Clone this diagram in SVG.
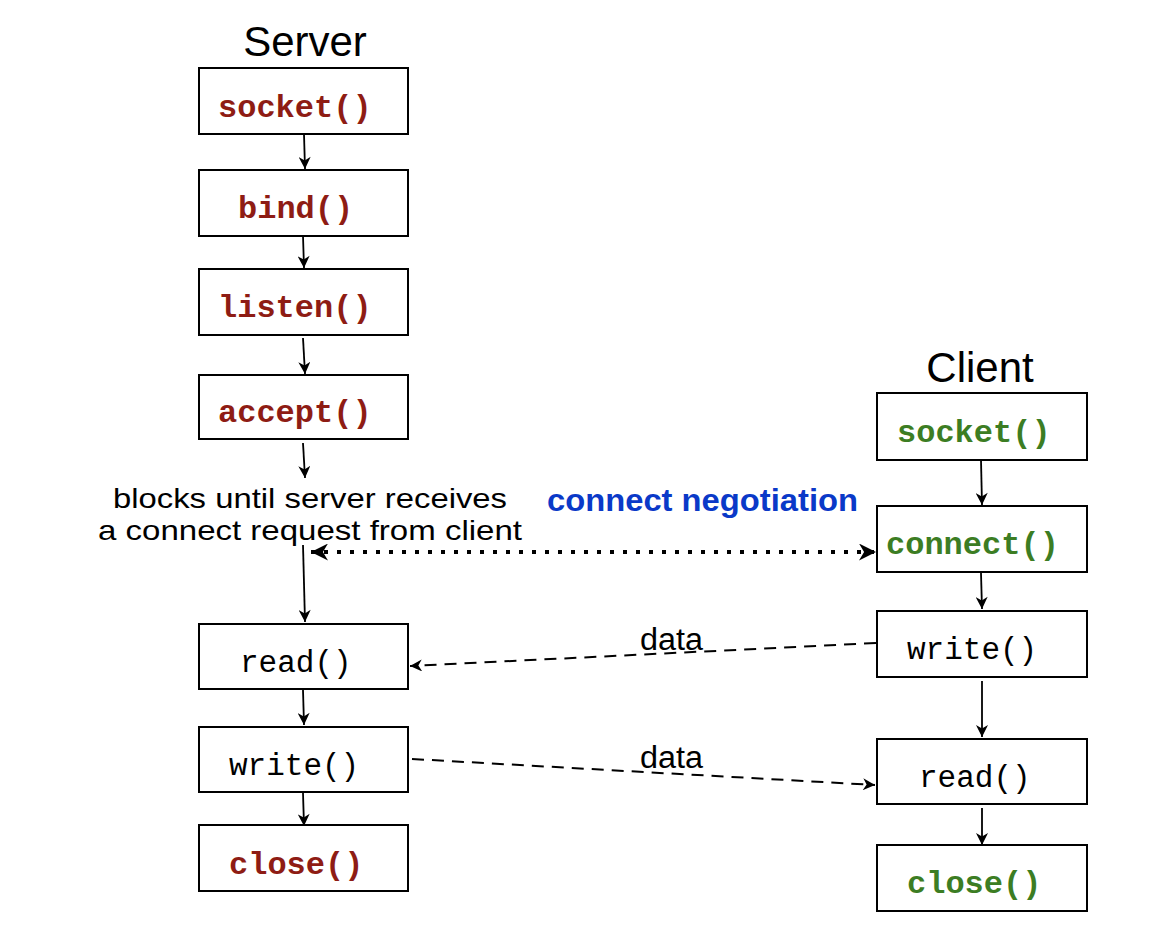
<svg xmlns="http://www.w3.org/2000/svg" width="1152" height="938" viewBox="0 0 1152 938">
<style>
.box{fill:#fff;stroke:#000;stroke-width:2}
.srv{font-family:"Liberation Mono",monospace;font-weight:bold;font-size:32px;fill:#8e1c14}
.cli{font-family:"Liberation Mono",monospace;font-weight:bold;font-size:32px;fill:#3c7d23}
.plain{font-family:"Liberation Mono",monospace;font-size:31px;fill:#000}
.title{font-family:"Liberation Sans",Arial,sans-serif;font-size:42px;fill:#000}
.note{font-family:"Liberation Sans",Arial,sans-serif;font-size:28px;fill:#000}
.neg{font-family:"Liberation Sans",Arial,sans-serif;font-weight:bold;font-size:31px;fill:#0a39c8}
.data{font-family:"Liberation Sans",Arial,sans-serif;font-size:31px;fill:#000}
.flow{stroke:#000;stroke-width:1.8;fill:none;marker-end:url(#arr)}
.dash{stroke:#000;stroke-width:2;fill:none;stroke-dasharray:12 8;marker-end:url(#arr)}
.dot{stroke:#000;stroke-width:4;fill:none;stroke-dasharray:4 9;marker-end:url(#arr2);marker-start:url(#arr2s)}
</style>
<defs>
<marker id="arr" viewBox="0 0 10 10" refX="10" refY="5" markerWidth="13" markerHeight="12" markerUnits="userSpaceOnUse" orient="auto">
<path d="M0,0 L10,5 L0,10 L3,5 z" fill="#000"/>
</marker>
<marker id="arr2" viewBox="0 0 10 10" refX="10" refY="5" markerWidth="19" markerHeight="17" markerUnits="userSpaceOnUse" orient="auto">
<path d="M0,0 L10,5 L0,10 L3,5 z" fill="#000"/>
</marker>
<marker id="arr2s" viewBox="0 0 10 10" refX="0" refY="5" markerWidth="19" markerHeight="17" markerUnits="userSpaceOnUse" orient="auto">
<path d="M10,0 L0,5 L10,10 L7,5 z" fill="#000"/>
</marker>
</defs>
<rect width="1152" height="938" fill="#fff"/>
<text class="title" x="305" y="56" text-anchor="middle">Server</text>
<text class="title" x="980" y="382" text-anchor="middle">Client</text>

<g id="s-socket"><rect class="box" x="199" y="68" width="209" height="66"/><text class="srv" x="218" y="117">socket()</text></g>
<g id="s-bind"><rect class="box" x="199" y="170" width="209" height="66"/><text class="srv" x="238" y="218">bind()</text></g>
<g id="s-listen"><rect class="box" x="199" y="269" width="209" height="66"/><text class="srv" x="218" y="317">listen()</text></g>
<g id="s-accept"><rect class="box" x="199" y="375" width="209" height="64"/><text class="srv" x="218" y="422">accept()</text></g>
<g id="s-note"><text class="note" x="113" y="508" textLength="394" lengthAdjust="spacingAndGlyphs">blocks until server receives</text><text class="note" x="98" y="540" textLength="424" lengthAdjust="spacingAndGlyphs">a connect request from client</text></g>
<g id="s-read"><rect class="box" x="199" y="624" width="209" height="65"/><text class="plain" x="240" y="672">read()</text></g>
<g id="s-write"><rect class="box" x="199" y="727" width="209" height="65"/><text class="plain" x="229" y="775">write()</text></g>
<g id="s-close"><rect class="box" x="199" y="825" width="209" height="66"/><text class="srv" x="229" y="874">close()</text></g>

<g id="c-socket"><rect class="box" x="877" y="393" width="210" height="67"/><text class="cli" x="897" y="442">socket()</text></g>
<g id="c-connect"><rect class="box" x="877" y="506" width="210" height="66"/><text class="cli" x="886" y="554">connect()</text></g>
<g id="c-write"><rect class="box" x="877" y="611" width="210" height="66"/><text class="plain" x="907" y="659">write()</text></g>
<g id="c-read"><rect class="box" x="877" y="739" width="210" height="65"/><text class="plain" x="919" y="787">read()</text></g>
<g id="c-close"><rect class="box" x="877" y="845" width="210" height="66"/><text class="cli" x="907" y="893">close()</text></g>

<g id="labels">
<text class="neg" x="547" y="511" textLength="311" lengthAdjust="spacingAndGlyphs">connect negotiation</text>
<text class="data" x="640" y="650" textLength="63" lengthAdjust="spacingAndGlyphs">data</text>
<text class="data" x="640" y="768" textLength="63" lengthAdjust="spacingAndGlyphs">data</text>
</g>

<g id="connectors">
<line class="flow" x1="304" y1="134" x2="305" y2="169"/>
<line class="flow" x1="303" y1="236" x2="304" y2="268"/>
<line class="flow" x1="303" y1="338" x2="305" y2="374"/>
<line class="flow" x1="303" y1="443" x2="305" y2="478"/>
<line class="flow" x1="303" y1="545" x2="305" y2="622"/>
<line class="flow" x1="303" y1="690" x2="304" y2="725"/>
<line class="flow" x1="303" y1="793" x2="304" y2="826"/>
<line class="flow" x1="981" y1="460" x2="982" y2="505"/>
<line class="flow" x1="981" y1="573" x2="982" y2="609"/>
<line class="flow" x1="982" y1="681" x2="982" y2="737"/>
<line class="flow" x1="982" y1="808" x2="982" y2="845"/>
<line class="dot" x1="311" y1="552" x2="876" y2="552"/>
<line class="dash" x1="876" y1="643" x2="410" y2="666"/>
<line class="dash" x1="412" y1="759" x2="875" y2="785"/>
</g>
</svg>
